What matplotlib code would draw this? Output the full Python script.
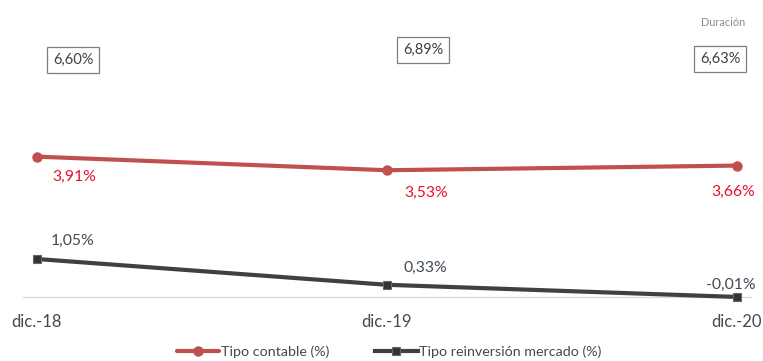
import matplotlib.pyplot as plt

# series
fechas    = ["dic.-18", "dic.-19", "dic.-20"]
contable  = [3.91, 3.53, 3.66]
mercado   = [1.05, 0.33, -0.01]
duracion  = [6.60, 6.89, 6.63]

def pct(v):
    return ("%.2f%%" % v).replace(".", ",")

plt.rcParams['font.family'] = ['Lato', 'DejaVu Sans']

W, H = 763, 361
fig = plt.figure(figsize=(W / 100, H / 100), dpi=100)
# axes box in pixels: left 23, right 752, top 10, bottom 300
ax = fig.add_axes([23 / W, 1 - 300 / H, (752 - 23) / W, (300 - 10) / H])
x = range(len(fechas))
ax.set_xlim(-0.04, 2.043)
ax.set_ylim(-0.095, 8.006)

ax.axhline(0, color="#d9d9d9", lw=1.0, zorder=1)

rojo = "#c0504d"
gris = "#404040"
ax.plot(x, contable, color=rojo, lw=3, marker="o", ms=6.5, solid_capstyle="round",
        label="Tipo contable (%)", zorder=3)
ax.plot(x, mercado, color=gris, lw=3, marker="s", ms=6, mfc="#333333", mec="#666666",
        mew=0.8, label="Tipo reinversión mercado (%)", zorder=3, clip_on=False)

off_rojo = [(37, -20), (39, -23), (-4, -26)]
off_gris = [(36, 18), (38, 17), (-6, 12)]
for i in x:
    ax.annotate(pct(contable[i]), (i, contable[i]), xytext=off_rojo[i],
                textcoords="offset pixels", ha="center", va="center",
                fontsize=11.3, color="#e8112d")
    ax.annotate(pct(mercado[i]), (i, mercado[i]), xytext=off_gris[i],
                textcoords="offset pixels", ha="center", va="center",
                fontsize=11.3, color="#404a55")

# duracion boxes
off_dur = [(36, 0), (36, 0), (-17, 0)]
for i in x:
    ax.annotate(pct(duracion[i]), (i, duracion[i]), xytext=off_dur[i],
                textcoords="offset pixels", ha="center", va="center",
                fontsize=10.5, color="#404040",
                bbox=dict(boxstyle="square,pad=0.42", fc="white", ec="#7f7f7f", lw=0.9))
fig.text(745 / W, 1 - 22 / H, "Duración", ha="right", va="center",
         fontsize=7.8, color="#8c8c8c")

ax.set_xticks(list(x))
ax.set_xticklabels(fechas, fontsize=12, color="#404a55")
ax.tick_params(axis="x", length=0, pad=10)
ax.set_yticks([])
for s in ax.spines.values():
    s.set_visible(False)

fig.legend(loc="center", bbox_to_anchor=(0.51, 1 - 352 / H), ncol=2, frameon=False,
           fontsize=10.3, handlelength=3, handletextpad=0.1, columnspacing=3.2,
           labelcolor="#404a55")

fig.savefig("out.png", dpi=100)
